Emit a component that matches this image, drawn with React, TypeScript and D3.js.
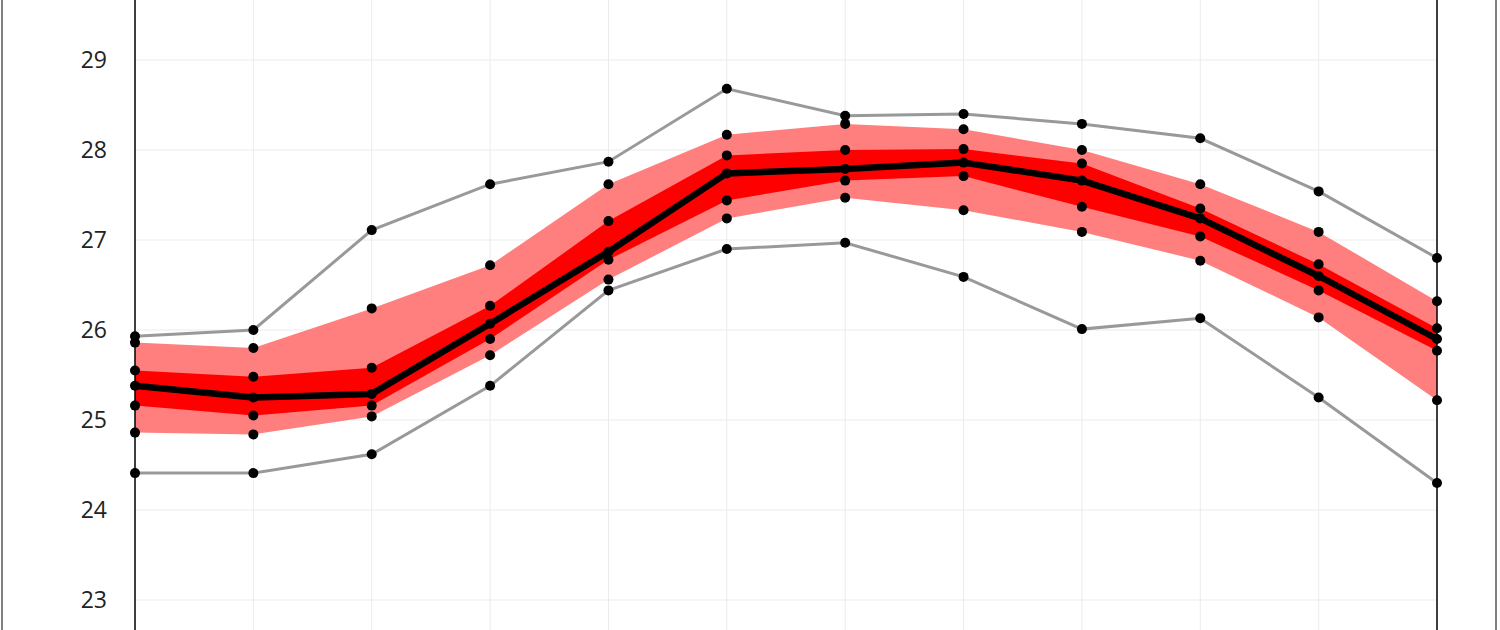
import React from "react";
import * as d3 from "d3";

const months = ["Jan", "Feb", "Mar", "Apr", "May", "Jun", "Jul", "Aug", "Sep", "Oct", "Nov", "Dec"];
const maxVals = [25.93, 26.0, 27.11, 27.62, 27.87, 28.68, 28.38, 28.4, 28.29, 28.13, 27.54, 26.8];
const p90Vals = [25.86, 25.8, 26.24, 26.72, 27.62, 28.17, 28.29, 28.23, 28.0, 27.62, 27.09, 26.32];
const p75Vals = [25.55, 25.48, 25.58, 26.27, 27.21, 27.94, 28.0, 28.01, 27.85, 27.35, 26.73, 26.02];
const medVals = [25.38, 25.25, 25.29, 26.07, 26.87, 27.74, 27.79, 27.86, 27.66, 27.24, 26.6, 25.9];
const p25Vals = [25.16, 25.05, 25.16, 25.9, 26.78, 27.44, 27.66, 27.71, 27.37, 27.04, 26.44, 25.77];
const p10Vals = [24.86, 24.84, 25.04, 25.72, 26.56, 27.24, 27.47, 27.33, 27.09, 26.77, 26.14, 25.22];
const minVals = [24.41, 24.41, 24.62, 25.38, 26.44, 26.9, 26.97, 26.59, 26.01, 26.13, 25.25, 24.3];
const yTicks = [23, 24, 25, 26, 27, 28, 29];

export default function App() {
  const W = 1500;
  const H = 630;
  const x = d3.scalePoint<string>().domain(months).range([135, 1437]);
  const y = d3.scaleLinear().domain([23, 29]).range([600, 60]);
  const xi = (i: number) => x(months[i]) as number;

  const band = (lo: number[], hi: number[]) =>
    d3
      .area<number>()
      .x((_, i) => xi(i))
      .y0((_, i) => y(lo[i]))
      .y1((_, i) => y(hi[i]))(months.map((_, i) => i)) || "";
  const line = (vals: number[]) =>
    d3
      .line<number>()
      .x((_, i) => xi(i))
      .y((d) => y(d))(vals) || "";

  const allSeries = [maxVals, p90Vals, p75Vals, medVals, p25Vals, p10Vals, minVals];

  return (
    <svg
      width={W}
      height={H}
      style={{ position: "fixed", left: 0, top: 0, background: "#fff" }}
      fontFamily="'Open Sans', 'DejaVu Sans', sans-serif"
    >
      <rect x={0} y={0} width={W} height={H} fill="#fff" />
      {/* outer frame */}
      <line x1={2} x2={2} y1={0} y2={H} stroke="#808080" strokeWidth={2} />
      <line x1={1496} x2={1496} y1={0} y2={H} stroke="#808080" strokeWidth={2} />
      {/* gridlines */}
      {yTicks.map((t) => (
        <line key={"h" + t} x1={135} x2={1437} y1={y(t)} y2={y(t)} stroke="#ebebeb" strokeWidth={1} />
      ))}
      {months.map((m) => (
        <line key={"v" + m} x1={x(m)} x2={x(m)} y1={0} y2={H} stroke="#ebebeb" strokeWidth={1} />
      ))}
      {/* bands */}
      <path d={band(p10Vals, p90Vals)} fill="#ff7f7f" />
      <path d={band(p25Vals, p75Vals)} fill="#ff0000" />
      {/* min/max lines */}
      <path d={line(maxVals)} fill="none" stroke="#999" strokeWidth={3} />
      <path d={line(minVals)} fill="none" stroke="#999" strokeWidth={3} />
      {/* median */}
      <path d={line(medVals)} fill="none" stroke="#000" strokeWidth={6.5} strokeLinejoin="round" />
      {/* axis lines */}
      <line x1={135} x2={135} y1={0} y2={H} stroke="#000" strokeWidth={1.5} />
      <line x1={1437} x2={1437} y1={0} y2={H} stroke="#000" strokeWidth={1.5} />
      {/* points */}
      {allSeries.map((s, si) =>
        s.map((v, i) => <circle key={si + "-" + i} cx={xi(i)} cy={y(v)} r={5} fill="#000" />)
      )}
      {/* y tick labels */}
      {yTicks.map((t) => (
        <text key={"t" + t} x={107} y={y(t)} dy="0.36em" textAnchor="end" fontSize={23} fill="#222">
          {t}
        </text>
      ))}
    </svg>
  );
}
